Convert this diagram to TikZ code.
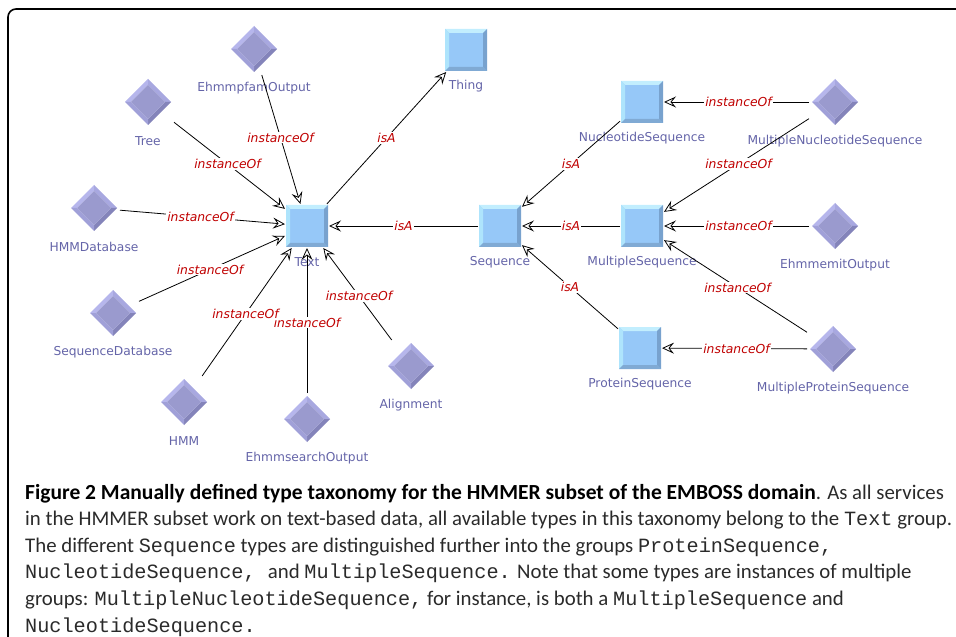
\documentclass[tikz,border=0pt]{standalone}
\usepackage{fontspec}
\setmainfont{Carlito}
\newfontfamily\lblfont{DejaVu Sans}
\newfontfamily\capmono{Liberation Mono}
\usetikzlibrary{arrows.meta,calc}
\definecolor{lblblue}{HTML}{6464A8}
\definecolor{edgered}{HTML}{C00000}
\definecolor{sqface}{HTML}{96C8F8}
\definecolor{sqtop}{HTML}{C2EEFE}
\definecolor{sqleft}{HTML}{AEE4FC}
\definecolor{sqbot}{HTML}{80AAD4}
\definecolor{sqright}{HTML}{78A2CE}
\definecolor{dface}{HTML}{9A9ACE}
\definecolor{dtl}{HTML}{B6B6EC}
\definecolor{dtr}{HTML}{A8A8E0}
\definecolor{dbr}{HTML}{8484BA}
\definecolor{dbl}{HTML}{A0A0D8}
\definecolor{captxt}{HTML}{2A2A2A}
\newcommand\cm[1]{{\capmono\fontsize{20.3}{26.7}\selectfont #1}}
\tikzset{
  sq/.style={rectangle, minimum size=42bp, inner sep=0pt, outer sep=1bp,
    path picture={
      \begin{scope}[shift={(path picture bounding box.center)}]
        \fill[sqface] (-21,-21) rectangle (21,21);
        \fill[sqtop] (-21,-21) -- (21,-21) -- (17,-17) -- (-17,-17) -- cycle;
        \fill[sqleft] (-21,-21) -- (-17,-17) -- (-17,17) -- (-21,21) -- cycle;
        \fill[sqbot] (-21,21) -- (21,21) -- (17,17) -- (-17,17) -- cycle;
        \fill[sqright] (21,-21) -- (21,21) -- (17,17) -- (17,-17) -- cycle;
      \end{scope}}},
  dm/.style={rectangle, minimum size=46bp, inner sep=0pt, outer sep=3bp,
    path picture={
      \begin{scope}[shift={(path picture bounding box.center)}]
        \fill[dtl] (-23,0) -- (0,-23) -- (0,-17) -- (-17,0) -- cycle;
        \fill[dtr] (0,-23) -- (23,0) -- (17,0) -- (0,-17) -- cycle;
        \fill[dbr] (23,0) -- (0,23) -- (0,17) -- (17,0) -- cycle;
        \fill[dbl] (0,23) -- (-23,0) -- (-17,0) -- (0,17) -- cycle;
        \fill[dface] (-17,0) -- (0,-17) -- (17,0) -- (0,17) -- cycle;
      \end{scope}}},
  nlbl/.style={text=lblblue, font=\lblfont\fontsize{12.3}{14}\selectfont, inner sep=0pt},
  sqlbl/.style={label={[nlbl, yshift=-36bp]center:#1}},
  dmlbl/.style={label={[nlbl, yshift=-39bp]center:#1}},
  arr/.style={-{Stealth[open, length=12bp, width=11bp, inset=4.5bp]}, line width=0.8bp, black},
  elbl/.style={text=edgered, font=\lblfont\itshape\fontsize{12.4}{14}\selectfont, fill=white, inner sep=1bp}
}
\begin{document}
\begin{tikzpicture}[x=1bp, y=-1bp]
\useasboundingbox (0,0) rectangle (956,637);
\draw[line width=1.6bp, rounded corners=8bp] (8,660) -- (8,9) -- (980,9);

% squares
\node[sq, sqlbl=Text] (text) at (307,226) {};
\node[sq, sqlbl=Thing] (thing) at (466,50) {};
\node[sq, sqlbl=Sequence] (seq) at (500,226) {};
\node[sq, sqlbl=NucleotideSequence] (nuc) at (642,102) {};
\node[sq, sqlbl=MultipleSequence] (mult) at (642,226) {};
\node[sq, sqlbl=ProteinSequence] (prot) at (640,348) {};
% diamonds
\node[dm, dmlbl=MultipleNucleotideSequence] (mns) at (835,102) {};
\node[dm, dmlbl=EhmmemitOutput] (emit) at (835,226) {};
\node[dm, dmlbl=MultipleProteinSequence] (mps) at (833,349) {};
\node[dm, dmlbl=EhmmpfamOutput] (pfam) at (254,49) {};
\node[dm, dmlbl=Tree] (tree) at (148,102) {};
\node[dm, dmlbl=HMMDatabase] (hmmdb) at (94,208) {};
\node[dm, dmlbl=SequenceDatabase] (seqdb) at (113,313) {};
\node[dm, dmlbl=HMM] (hmm) at (184,402) {};
\node[dm, dmlbl=EhmmsearchOutput] (search) at (307,419) {};
\node[dm, dmlbl=Alignment] (align) at (411,366) {};

% connectors
\draw[arr] (pfam) -- (text);
\draw[arr] (tree) -- (text);
\draw[arr] (hmmdb) -- (text);
\draw[arr] (seqdb) -- (text);
\draw[arr] (hmm) -- (text);
\draw[arr] (search) -- (text);
\draw[arr] (align) -- (text);
\draw[arr] (text) -- (thing);
\draw[arr] (seq) -- (text);
\draw[arr] (nuc) -- (seq);
\draw[arr] (mult) -- (seq);
\draw[arr] (prot) -- (seq);
\draw[arr] (mns) -- (nuc);
\draw[arr] (mns) -- (mult);
\draw[arr] (emit) -- (mult);
\draw[arr] (mps) -- (mult);
\draw[arr] (mps) -- (prot);

% connector labels
\path (pfam.center) -- node[elbl] {instanceOf} (text.center);
\path (tree.center) -- node[elbl] {instanceOf} (text.center);
\path (hmmdb.center) -- node[elbl] {instanceOf} (text.center);
\path (seqdb.center) -- node[elbl] {instanceOf} (text.center);
\path (search.center) -- node[elbl] {instanceOf} (text.center);
\path (hmm.center) -- node[elbl] {instanceOf} (text.center);
\path (align.center) -- node[elbl] {instanceOf} (text.center);
\path (text.center) -- node[elbl] {isA} (thing.center);
\path (seq.center) -- node[elbl] {isA} (text.center);
\path (nuc.center) -- node[elbl] {isA} (seq.center);
\path (mult.center) -- node[elbl] {isA} (seq.center);
\path (prot.center) -- node[elbl] {isA} (seq.center);
\path (mns.center) -- node[elbl] {instanceOf} (nuc.center);
\path (mns.center) -- node[elbl] {instanceOf} (mult.center);
\path (emit.center) -- node[elbl] {instanceOf} (mult.center);
\path (mps.center) -- node[elbl] {instanceOf} (mult.center);
\path (mps.center) -- node[elbl] {instanceOf} (prot.center);

% caption (base anchor = baseline of last line)
\node[anchor=base west, align=left, inner sep=0pt, text=captxt,
      font=\fontsize{20.9}{26.7}\selectfont] (cap) at (25,632) {%
{\fontsize{21.6}{26.7}\selectfont\bfseries\color{black}Figure 2 Manually defined type taxonomy for the HMMER subset of the EMBOSS domain}. As all services\\
in the HMMER subset work on text-based data, all available types in this taxonomy belong to the \cm{Text} group.\\
The different \cm{Sequence} types are distinguished further into the groups \cm{ProteinSequence,}\\
\cm{NucleotideSequence, }and \cm{MultipleSequence.} Note that some types are instances of multiple\\
groups: \cm{MultipleNucleotideSequence,} for instance, is both a \cm{MultipleSequence} and\\
\cm{NucleotideSequence.}};
\end{tikzpicture}
\end{document}
